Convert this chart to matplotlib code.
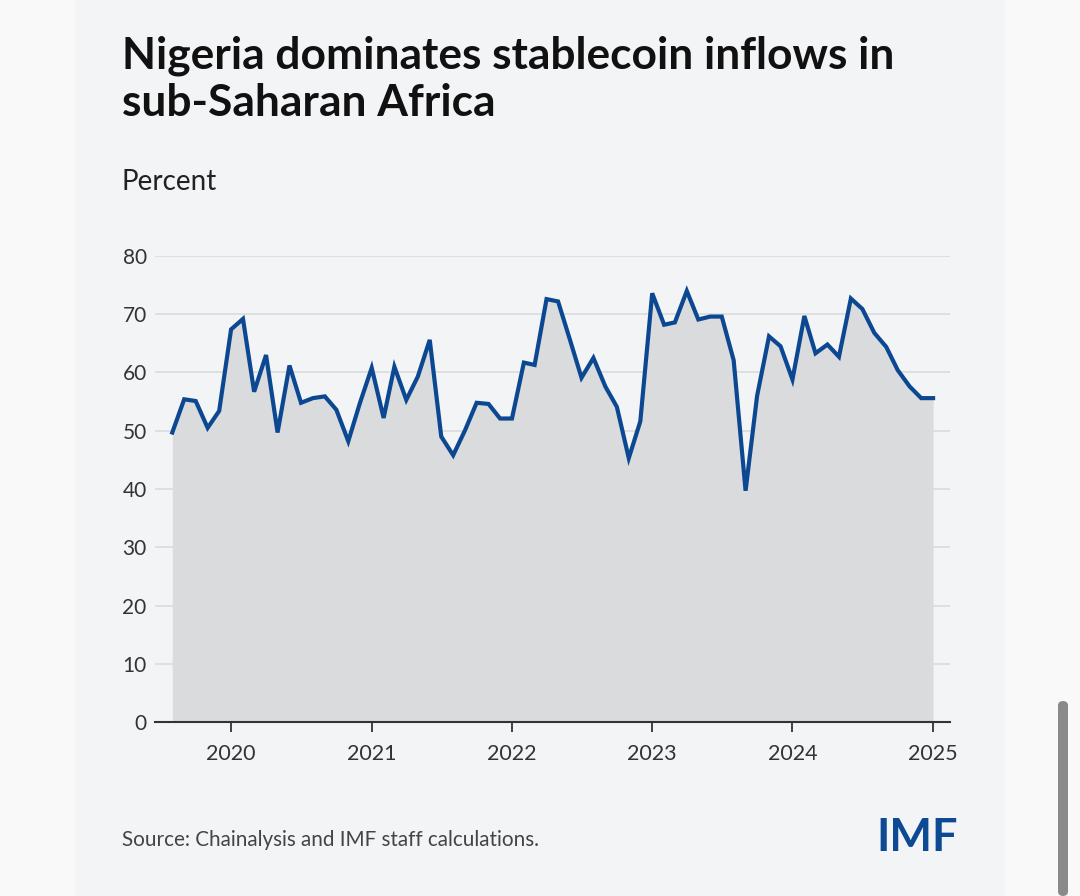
import matplotlib
matplotlib.use("Agg")
import matplotlib.pyplot as plt
import matplotlib.dates as mdates
from matplotlib.patches import Rectangle, FancyBboxPatch
import pandas as pd

# monthly share of sub-Saharan stablecoin inflows going to Nigeria, Aug 2019 - Jan 2025
start_month = "2019-08-01"
end_month = "2025-01-01"
share = [
    49.7, 55.4, 55.1, 50.5, 53.4,                                            # 2019
    67.4, 69.2, 56.7, 63.0, 49.7, 61.2, 54.8, 55.6, 55.9, 53.6, 48.2, 54.7,  # 2020
    60.8, 52.2, 61.0, 55.3, 59.3, 65.6, 49.0, 45.8, 50.1, 54.8, 54.6, 52.1,  # 2021
    52.1, 61.7, 61.3, 72.6, 72.2, 65.6, 59.1, 62.5, 57.6, 54.1, 45.3, 51.6,  # 2022
    73.6, 68.2, 68.6, 74.0, 69.1, 69.6, 69.6, 62.1, 39.7, 56.0, 66.2, 64.5,  # 2023
    58.8, 69.7, 63.3, 64.8, 62.7, 72.7, 70.9, 66.8, 64.4, 60.4, 57.6, 55.6,  # 2024
    55.6,                                                                    # 2025
]
year_ticks = [2020, 2021, 2022, 2023, 2024, 2025]
y_ticks = [0, 10, 20, 30, 40, 50, 60, 70, 80]

title = "Nigeria dominates stablecoin inflows in\nsub-Saharan Africa"
unit = "Percent"
source = "Source: Chainalysis and IMF staff calculations."

dates = pd.date_range(start_month, end_month, freq="MS")

plt.rcParams["font.family"] = ["Lato", "DejaVu Sans"]

W, H = 1080, 896
fig = plt.figure(figsize=(W / 100, H / 100), dpi=100)
fig.patch.set_facecolor("#f9f9fa")

# card background
fig.patches.append(Rectangle((75 / W, 0), 930 / W, 1, transform=fig.transFigure,
                             facecolor="#f3f4f6", edgecolor="none", zorder=-10))
# scrollbar
fig.patches.append(FancyBboxPatch((1058 / W, 0), 10 / W, 195 / H,
                                  boxstyle="round,pad=0,rounding_size=0.005",
                                  transform=fig.transFigure,
                                  facecolor="#8a8a8a", edgecolor="none", zorder=-5))

ax = fig.add_axes([155 / W, (H - 722) / H, 795 / W, 466 / H])
ax.set_facecolor("none")

ax.fill_between(dates, share, 0, color="#dadbdc", linewidth=0, zorder=2)
ax.plot(dates, share, color="#0c4892", linewidth=3.0, solid_joinstyle="miter", zorder=3)

ax.set_ylim(0, 80)
ax.set_yticks(y_ticks)
ax.set_xlim(pd.Timestamp("2019-06-17"), pd.Timestamp("2025-02-14"))
ax.set_xticks([pd.Timestamp(f"{y}-01-01") for y in year_ticks])
ax.xaxis.set_major_formatter(mdates.DateFormatter("%Y"))

ax.grid(axis="y", color="#dedfe1", linewidth=1.4, zorder=1)
for s in ["top", "right", "left"]:
    ax.spines[s].set_visible(False)
ax.spines["bottom"].set_color("#333333")
ax.spines["bottom"].set_linewidth(1.5)
ax.spines["bottom"].set_zorder(4)

ax.tick_params(axis="y", length=0, pad=6, labelsize=15, labelcolor="#333333")
ax.tick_params(axis="x", length=7, width=1.3, color="#333333", pad=9,
               labelsize=15.5, labelcolor="#333333")

t = fig.text(122 / W, 1 - 35 / H, title, fontsize=29, fontweight="bold",
             color="#111111", va="top", ha="left", linespacing=1.22)
fig.canvas.draw()
r = fig.canvas.get_renderer()
wpx = t.get_window_extent(r).width
t.set_fontsize(29 * 771 / wpx)

fig.text(122 / W, 1 - 182 / H, unit, fontsize=20, color="#222222", va="center", ha="left")
fig.text(122 / W, 1 - 840 / H, source, fontsize=14.9, color="#444444", va="center", ha="left")
fig.text(958 / W, 1 - 838 / H, "IMF", fontsize=32.5, fontweight="bold", color="#0d4a93",
         va="center", ha="right")

fig.savefig("out.png", dpi=100, facecolor=fig.get_facecolor())
